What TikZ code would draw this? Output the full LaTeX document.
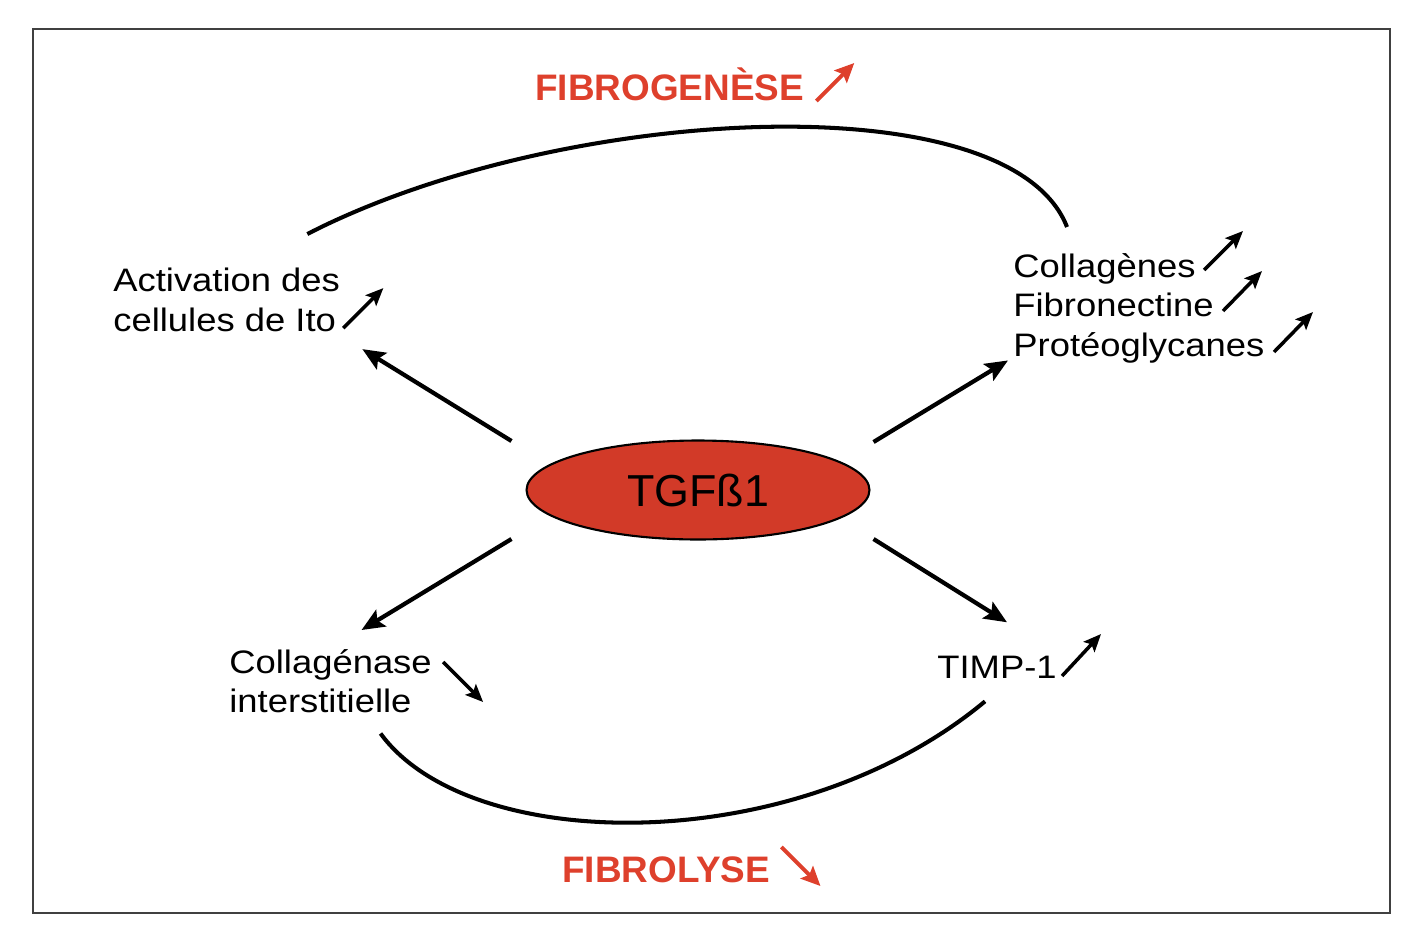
\documentclass[tikz,border=0pt]{standalone}
\usepackage{fontspec}
\setmainfont{Liberation Sans}
\newfontfamily\widefont[FakeStretch=1.12]{Liberation Sans}
\usetikzlibrary{shapes.geometric,arrows.meta}
\definecolor{fibrored}{RGB}{222,64,44}
\definecolor{tgfred}{RGB}{210,58,40}
\begin{document}
\begin{tikzpicture}[x=0.02cm, y=-0.02cm] % 1 единица = 1 пиксель
\tikzstyle{lbl} = [font=\widefont\fontsize{18.5}{22.5}\selectfont, inner sep=0pt, align=left] % подписи
\tikzstyle{ttl} = [font=\bfseries\fontsize{21}{25}\selectfont, text=fibrored, inner sep=0pt] % red titles
\tikzstyle{cytokine} = [ellipse, draw, line width=1.2pt, fill=tgfred, minimum width=6.86cm, minimum height=1.98cm, inner sep=0pt, font=\fontsize{25.5}{30}\selectfont]
\tikzstyle{bigarrow} = [-{Stealth[length=13pt,width=11pt,inset=2.5pt]}, line width=2.4pt] % основные стрелки
\tikzstyle{trend} = [-{Stealth[length=10pt,width=8.5pt,inset=2pt]}, line width=2pt] % малые стрелки
\tikzstyle{redtrend} = [-{Stealth[length=11pt,width=10pt,inset=2pt]}, line width=2.2pt, fibrored]
\tikzstyle{loopline} = [line width=2.3pt]
\tikzstyle{frame} = [line width=1.5pt, black!75]
\useasboundingbox (0,0) rectangle (1416,940);
\draw[frame] (33,29) rectangle (1390,913); % рамка
\node[cytokine] (tgf) at (698,490) {TGFß1}; % центр
\node[lbl, anchor=north west] (act) at (113,268) {Activation des\\cellules de Ito};
\node[lbl, anchor=north west] (col) at (1013,253) {Collagènes\\Fibronectine\\Protéoglycanes};
\node[lbl, anchor=north west] (clg) at (229,649) {Collagénase\\interstitielle};
\node[lbl, anchor=base west] (timp) at (937,678) {TIMP-1};
\node[ttl, anchor=base west] (fg) at (535,100) {FIBROGENÈSE};
\node[ttl, anchor=base west] (fl) at (562,882) {FIBROLYSE};
% стрелки от TGF
\draw[bigarrow] ([shift={(-14,-49)}]tgf.west) -- ([shift={(22,17)}]act.south east);
\draw[bigarrow] ([shift={(3,-48)}]tgf.east) -- ([shift={(-5,-3)}]col.south west);
\draw[bigarrow] ([shift={(-14,49)}]tgf.west) -- ([shift={(31,-19)}]clg.north);
\draw[bigarrow] ([shift={(3,49)}]tgf.east) -- ([shift={(10,-33)}]timp.north);
% дуги
\draw[loopline] ([shift={(-33,-34)}]act.north east) .. controls +(251,-129) and +(-57,-147) .. ([shift={(54,-26)}]col.north west);
\draw[loopline] ([shift={(50,20)}]clg.south) .. controls +(89,122) and +(-190,158) .. ([shift={(-12,23)}]timp.south);
% малые стрелки
\draw[redtrend] ([shift={(12,1)}]fg.base east) -- ++(38,-38);
\draw[redtrend] ([shift={(11,-35)}]fl.base east) -- ++(39,39);
\draw[trend] ([shift={(3,-4)}]act.south east) -- ++(40,-40);
\draw[trend] ([shift={(191,17)}]col.north west) -- ++(39,-39);
\draw[trend] ([shift={(210,58)}]col.north west) -- ++(39,-40);
\draw[trend] ([shift={(261,99)}]col.north west) -- ++(39,-40);
\draw[trend] ([shift={(11,13)}]clg.north east) -- ++(40,40);
\draw[trend] ([shift={(5,-2)}]timp.base east) -- ++(39,-42);
\end{tikzpicture}
\end{document}
